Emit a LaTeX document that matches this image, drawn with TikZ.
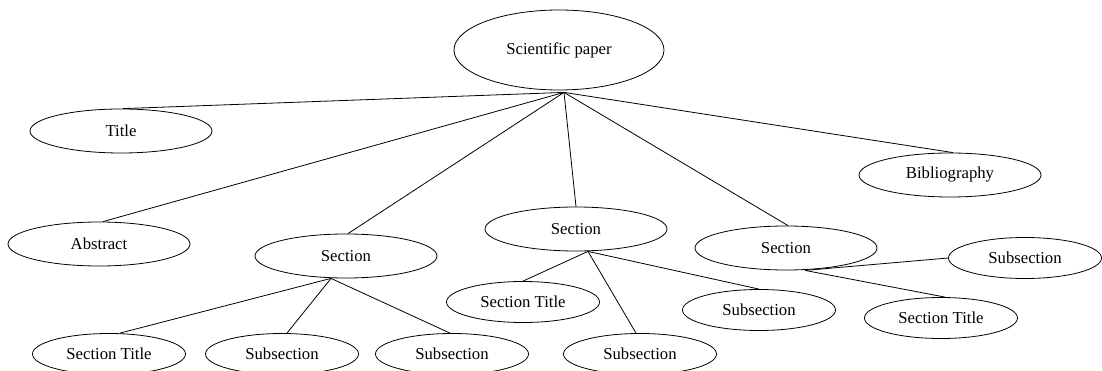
\documentclass[tikz,border=0pt]{standalone}
\usepackage{fontspec}
\setmainfont{Liberation Serif}
\usetikzlibrary{shapes.geometric}

\begin{document}
\begin{tikzpicture}[x=1pt, y=-1pt, line width=0.8pt,
        parte/.style={draw, ellipse, inner sep=0pt, minimum width=153pt, minimum height=41pt,
            font=\fontsize{16.7}{20}\selectfont},
        bloque/.style={parte, minimum width=182pt, minimum height=44pt}]
        \useasboundingbox (0,0) rectangle (1102,371);

        % Raíz
        \node[parte, minimum width=210pt, minimum height=80pt] (paper) at (559,50) {Scientific paper};
        \coordinate (paper-s) at ([xshift=5pt, yshift=-2pt]paper.south);

        % Primer nivel
        \node[bloque] (title) at (121,131) {Title};
        \node[bloque] (abstract) at (99,244) {Abstract};
        \node[bloque] (sec1) at (346,256) {Section};
        \node[bloque] (sec2) at (576,229) {Section};
        \node[bloque] (sec3) at (786,248) {Section};
        \node[bloque] (bib) at (950,175) {Bibliography};

        \coordinate (sec1-s) at ([xshift=-15pt]sec1.south);
        \coordinate (sec2-s) at ([xshift=12pt]sec2.south);
        \coordinate (sec3-s) at ([xshift=19pt]sec3.south);

        % Segundo nivel
        \node[parte] (st1) at (109,354) {Section Title};
        \node[parte] (sub1a) at (282,354) {Subsection};
        \node[parte] (sub1b) at (452,354) {Subsection};
        \node[parte] (st2) at (523,302) {Section Title};
        \node[parte] (sub2a) at (640,354) {Subsection};
        \node[parte] (sub2b) at (759,310) {Subsection};
        \node[parte] (sub3) at (1025,258) {Subsection};
        \node[parte] (st3) at (941,318) {Section Title};

        % Aristas desde la raíz
        \draw (paper-s) -- ([xshift=2pt]title.north);
        \draw (paper-s) -- ([xshift=4pt]abstract.north);
        \draw (paper-s) -- ([xshift=2pt]sec1.north);
        \draw (paper-s) -- (sec2.north);
        \draw (paper-s) -- ([xshift=2pt]sec3.north);
        \draw (paper-s) -- ([xshift=3pt]bib.north);

        % Aristas de las secciones
        \draw (sec1-s) -- ([xshift=11pt]st1.north);
        \draw (sec1-s) -- ([xshift=5pt]sub1a.north);
        \draw (sec1-s) -- ([xshift=-2pt]sub1b.north);
        \draw (sec2-s) -- (st2.north);
        \draw (sec2-s) -- ([xshift=-4pt]sub2a.north);
        \draw (sec2-s) -- (sub2b.north);
        \draw (sec3-s) -- (sub3.west);
        \draw (sec3-s) -- ([xshift=4pt]st3.north);
    \end{tikzpicture}
\end{document}
